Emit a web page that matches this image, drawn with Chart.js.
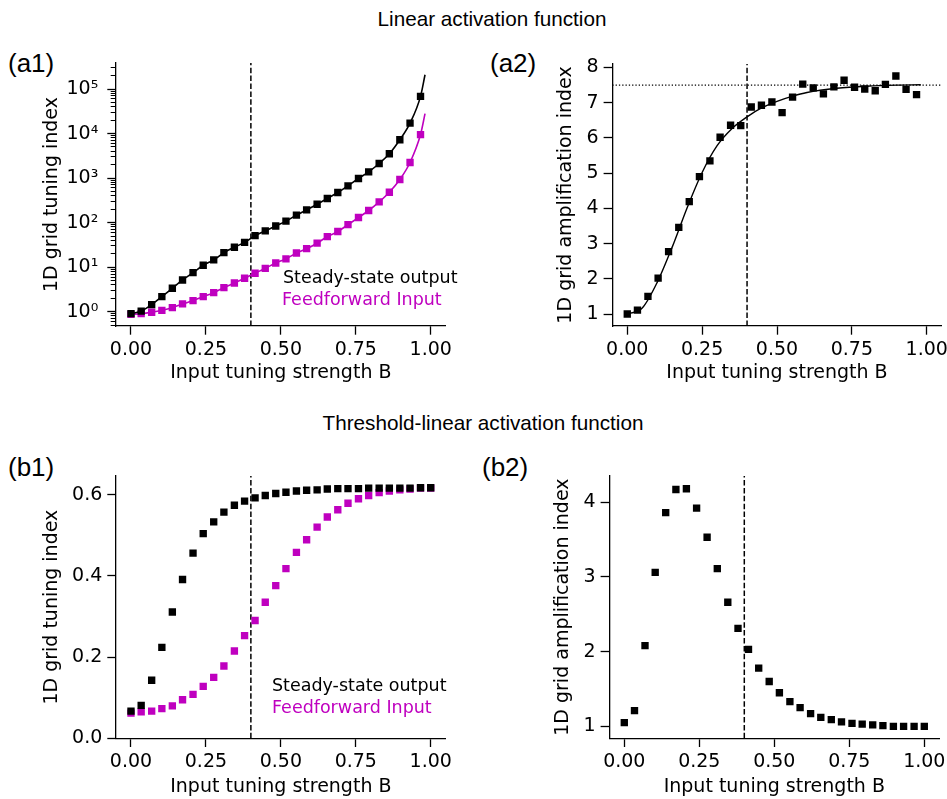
<!DOCTYPE html>
<html>
<head>
<meta charset="utf-8">
<script src="https://cdn.jsdelivr.net/npm/chart.js@4.4.1/dist/chart.umd.min.js"></script>
<style>
  html, body { margin:0; padding:0; background:#fff; width:947px; height:799px; overflow:hidden; }
  body { position:relative; }
  canvas { position:absolute; }
  .txt { position:absolute; white-space:nowrap; line-height:1; color:#000; }
  .sup { font-family:'Liberation Sans', Arial, sans-serif; font-size:20.7px; width:500px; text-align:center; }
  .lab { font-family:'Liberation Sans', Arial, sans-serif; font-size:26px; }
  .leg { font-family:'DejaVu Sans', sans-serif; font-size:17.5px; }
  .mag { color:#BF00BF; }
</style>
</head>
<body>
<div class="txt sup" style="left:242px;top:9px">Linear activation function</div>
<div class="txt sup" style="left:233px;top:413px">Threshold-linear activation function</div>
<div class="txt lab" style="left:8px;top:50px">(a1)</div>
<div class="txt lab" style="left:490px;top:50px">(a2)</div>
<div class="txt lab" style="left:8px;top:454px">(b1)</div>
<div class="txt lab" style="left:482px;top:454px">(b2)</div>

<canvas id="a1"></canvas>
<canvas id="a2"></canvas>
<canvas id="b1"></canvas>
<canvas id="b2"></canvas>

<div class="txt leg" style="left:283px;top:269px">Steady-state output</div>
<div class="txt leg mag" style="left:282px;top:291px">Feedforward Input</div>
<div class="txt leg" style="left:272px;top:677px">Steady-state output</div>
<div class="txt leg mag" style="left:272px;top:699px">Feedforward Input</div>

<script>
// ── DATA ──
// input tuning strength B, sampled at the marker positions
const bValues = [0, 0.034, 0.069, 0.103, 0.138, 0.172, 0.207, 0.241, 0.276, 0.310,
                 0.345, 0.379, 0.414, 0.448, 0.483, 0.517, 0.552, 0.586, 0.621, 0.655,
                 0.690, 0.724, 0.759, 0.793, 0.828, 0.862, 0.897, 0.931, 0.966, 1.000];
const threshB = 0.4;

// (a1) linear activation, 1D grid tuning index (log)
const a1Steady = [0.90, 1.03, 1.44, 2.17, 3.35, 5.15, 7.5, 11.0, 14.5, 21.2,
                  28, 36, 51, 65, 84, 108, 147, 193, 259, 348,
                  474, 670, 979, 1383, 2130, 3515, 7260, 17200, 68400];
const a1Feed   = [0.87, 0.90, 0.97, 1.07, 1.23, 1.49, 1.77, 2.17, 2.67, 3.46,
                  4.41, 5.63, 7.3, 9.4, 12.4, 15.3, 20.8, 26, 34.5, 48.5,
                  63, 90, 130, 187, 292, 482, 930, 2240, 9500];
const a1SteadyEnd = {x:0.981, y:210000};
const a1FeedEnd   = {x:0.981, y:28000};

// (a2) linear activation, amplification index + fitted curve
const a2Amp  = [1.00, 1.11, 1.50, 2.02, 2.77, 3.46, 4.19, 4.90, 5.35, 6.02,
                6.36, 6.35, 6.88, 6.93, 7.02, 6.72, 7.16, 7.53, 7.42, 7.25,
                7.45, 7.64, 7.44, 7.39, 7.34, 7.52, 7.76, 7.38, 7.23];
const a2FitX = [0, 0.05, 0.10, 0.15, 0.20, 0.25, 0.30, 0.35, 0.40, 0.45, 0.50, 0.55, 0.60, 0.70, 0.80, 0.90, 0.98];
const a2FitY = [1.00, 1.17, 1.90, 2.90, 4.02, 5.02, 5.78, 6.27, 6.60, 6.86, 7.04, 7.18, 7.29, 7.41, 7.47, 7.50, 7.51];
const a2Sat  = 7.5;

// (b1) threshold-linear activation, tuning index
const b1Steady = [0.067, 0.081, 0.143, 0.224, 0.311, 0.391, 0.456, 0.504, 0.533, 0.557,
                  0.574, 0.584, 0.592, 0.598, 0.603, 0.606, 0.609, 0.611, 0.612, 0.614,
                  0.615, 0.615, 0.615, 0.616, 0.616, 0.616, 0.616, 0.616, 0.617, 0.617];
const b1Feed   = [0.062, 0.065, 0.067, 0.073, 0.080, 0.095, 0.108, 0.128, 0.150, 0.178,
                  0.215, 0.253, 0.290, 0.335, 0.376, 0.418, 0.458, 0.489, 0.520, 0.545,
                  0.563, 0.579, 0.590, 0.598, 0.605, 0.609, 0.612, 0.614, 0.616, 0.616];

// (b2) threshold-linear activation, amplification index
const b2Amp = [1.05, 1.21, 2.08, 3.06, 3.86, 4.17, 4.18, 3.92, 3.53, 3.11,
               2.66, 2.31, 2.03, 1.78, 1.60, 1.45, 1.33, 1.25, 1.17, 1.12,
               1.09, 1.06, 1.04, 1.03, 1.02, 1.01, 1.00, 1.00, 1.00, 1.00];

// tick values
const xTicks   = [0, 0.25, 0.5, 0.75, 1.0];
const a1YTicks = [1, 10, 100, 1000, 10000, 100000];
const a2YTicks = [1, 2, 3, 4, 5, 6, 7, 8];
const b1YTicks = [0, 0.2, 0.4, 0.6];
const b2YTicks = [1, 2, 3, 4];

// ── DEFAULTS ──
Chart.defaults.font.family = "'DejaVu Sans', sans-serif";
Chart.defaults.font.size = 19;
Chart.defaults.color = '#000';

const BLACK = '#000000', MAG = '#BF00BF';
const el = id => document.getElementById(id);
const pts = (ys) => ys.map((y, i) => ({x: bValues[i], y}));
const SUP = {'0':'⁰','1':'¹','2':'²','3':'³','4':'⁴','5':'⁵','6':'⁶','-':'⁻'};
const pow10 = v => '10' + String(Math.round(Math.log10(v))).split('').map(c => SUP[c]).join('');

function markers(ys, color){
  return {data: pts(ys), showLine:false, pointStyle:'rect', pointRadius:5.2, pointHoverRadius:5.2,
          pointBackgroundColor:color, pointBorderWidth:0};
}
function curve(data, color, w){
  return {data, showLine:true, pointRadius:0, borderColor:color, borderWidth:w||1.6,
          cubicInterpolationMode:'monotone', fill:false};
}
function vline(yMin, yMax){
  return {data:[{x:threshB, y:yMin}, {x:threshB, y:yMax}], showLine:true, pointRadius:0,
          borderColor:BLACK, borderWidth:1.5, borderDash:[5.5, 2.4]};
}

function panel(id, reg, box, o){
  const c = el(id);
  c.width = reg.w; c.height = reg.h;
  c.style.left = reg.x + 'px'; c.style.top = reg.y + 'px';
  const yW = box.l - reg.x, xH = reg.y + reg.h - box.b;
  const tickGrid = len => ({drawOnChartArea:false, drawTicks:true, tickLength:len, tickWidth:1.3, tickColor:BLACK});
  const scales = {
    x: {type:'linear', min:-0.05, max:1.05,
        afterBuildTicks: s => { s.ticks = xTicks.map(v => ({value:v})); },
        afterFit: s => { s.height = xH; s.paddingLeft = 0; s.paddingRight = 0; },
        ticks:{padding:3.8, autoSkip:false, maxRotation:0, callback: v => v.toFixed(2)},
        grid: tickGrid(8.7),
        border:{color:BLACK, width:1.3},
        title:{display:true, text:'Input tuning strength B', padding:{top:0, bottom:o.xTitlePad}}},
    y: {type:o.yType || 'linear', min:o.yMin, max:o.yMax, position:'left', weight:1,
        afterBuildTicks: s => { s.ticks = o.yTicks.map(v => ({value:v})); },
        afterFit: s => { s.width = yW; s.paddingTop = 0; s.paddingBottom = 0; },
        ticks:{padding:o.yPad, autoSkip:false, callback:o.yFmt},
        grid: tickGrid(8.7),
        border:{color:BLACK, width:1.3},
        title:{display:true, text:o.yTitle, padding:{top:o.yTitlePad, bottom:0}}}
  };
  if (o.minor){
    // minor ticks of the log axis: a zero-width inner axis
    scales.ym = {type:'logarithmic', min:o.yMin, max:o.yMax, position:'left', weight:0,
        afterBuildTicks: s => { s.ticks = o.minor.map(v => ({value:v})); },
        afterFit: s => { s.width = 0; s.paddingTop = 0; s.paddingBottom = 0; },
        ticks:{display:false},
        grid:{drawOnChartArea:false, drawTicks:true, tickLength:5.3, tickWidth:1, tickColor:BLACK},
        border:{display:false}};
  }
  return new Chart(c.getContext('2d'), {
    type:'scatter',
    data:{datasets:o.datasets},
    options:{
      responsive:false, animation:false, events:[],
      layout:{padding:{left:0, bottom:0, top:box.t - reg.y, right:reg.x + reg.w - box.r}},
      plugins:{legend:{display:false}, tooltip:{enabled:false}},
      scales
    }
  });
}

// minor log ticks 2..9 x 10^k inside the a1 range
const a1YMin = 0.476, a1YMax = 385000;
const a1Minor = [];
for (let k = -1; k <= 5; k++) for (let m = 2; m <= 9; m++){
  const v = m * Math.pow(10, k);
  if (v > a1YMin && v < a1YMax) a1Minor.push(v);
}

panel('a1', {x:0, y:40, w:470, h:350}, {l:116, t:63, r:445.7, b:326}, {
  yType:'logarithmic', yMin:a1YMin, yMax:a1YMax, yTicks:a1YTicks, minor:a1Minor,
  yFmt: v => pow10(v), yPad:9, yTitle:'1D grid tuning index', yTitlePad:40.8, xTitlePad:6,
  datasets:[
    markers(a1Steady, BLACK),
    curve(pts(a1Steady).concat([a1SteadyEnd]), BLACK),
    markers(a1Feed, MAG),
    curve(pts(a1Feed).concat([a1FeedEnd]), MAG),
    vline(a1YMin, a1YMax)
  ]
});

panel('a2', {x:470, y:40, w:477, h:350}, {l:612.3, t:64, r:941.7, b:326}, {
  yMin:0.66, yMax:8.1, yTicks:a2YTicks, yFmt: v => String(v), yPad:5,
  yTitle:'1D grid amplification index', yTitlePad:84.8, xTitlePad:6,
  datasets:[
    markers(a2Amp, BLACK),
    curve(a2FitX.map((x, i) => ({x, y:a2FitY[i]})), BLACK, 1.4),
    {data:[{x:-0.05, y:a2Sat}, {x:1.05, y:a2Sat}], showLine:true, pointRadius:0,
     borderColor:BLACK, borderWidth:1.2, borderDash:[1.3, 2]},
    vline(0.66, 8.1)
  ]
});

panel('b1', {x:0, y:450, w:470, h:349}, {l:116, t:476, r:445.7, b:738.3}, {
  yMin:0, yMax:0.646, yTicks:b1YTicks, yFmt: v => v.toFixed(1), yPad:5,
  yTitle:'1D grid tuning index', yTitlePad:41.1, xTitlePad:1,
  datasets:[
    markers(b1Steady, BLACK),
    markers(b1Feed, MAG),
    vline(0, 0.646)
  ]
});

panel('b2', {x:470, y:450, w:477, h:349}, {l:609.3, t:476, r:939.3, b:738.3}, {
  yMin:0.84, yMax:4.35, yTicks:b2YTicks, yFmt: v => String(v), yPad:5,
  yTitle:'1D grid amplification index', yTitlePad:81.9, xTitlePad:1,
  datasets:[
    markers(b2Amp, BLACK),
    vline(0.84, 4.35)
  ]
});
</script>
</body>
</html>
